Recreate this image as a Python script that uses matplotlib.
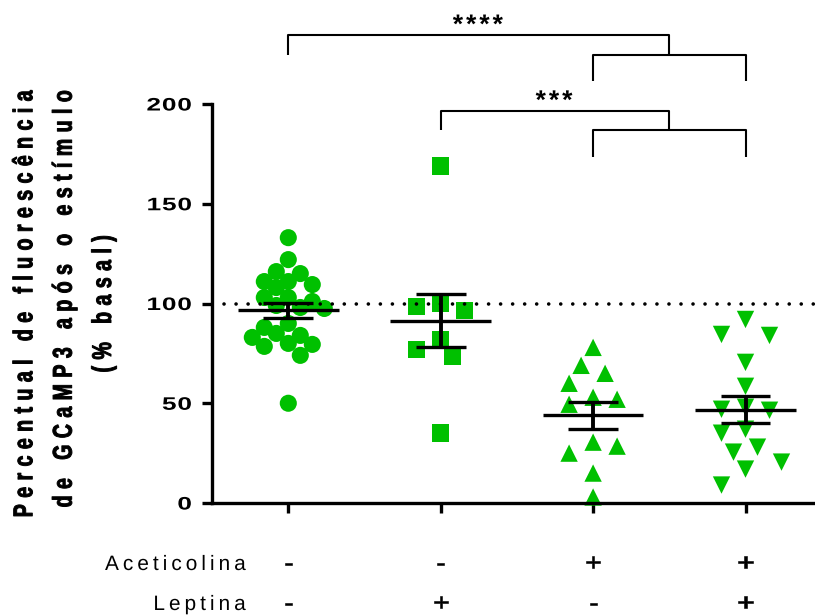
import numpy as np
import matplotlib
matplotlib.use('Agg')
import matplotlib.pyplot as plt
import matplotlib.patheffects as pe
import matplotlib.transforms as mtransforms
from matplotlib.path import Path
from matplotlib.textpath import TextToPath

# ---------------- data ----------------
grupo_controle = [133, 122, 115, 116, 111, 109.5, 111, 108, 103, 103, 101, 99, 98,
                  97.5, 88, 90, 84, 85, 83, 80, 78.5, 79.5, 74, 50]
grupo_leptina = [169, 100, 96.5, 98.5, 82, 77, 73.5, 35]
grupo_ach = [78, 69, 65, 60, 53, 52, 49.5, 30.5, 28.5, 25, 15, 3]
grupo_ach_leptina = [92, 84, 84.5, 70.5, 58.5, 48, 47, 46.5, 37, 35, 28, 25.5,
                     20.5, 17, 9]
groups = [grupo_controle, grupo_leptina, grupo_ach, grupo_ach_leptina]
markers = ['o', 's', '^', 'v']

aceticolina_signs = ['-', '-', '+', '+']
leptina_signs = ['-', '+', '-', '+']
row_labels = ['Aceticolina', 'Leptina']

yticks = [0, 50, 100, 150, 200]
ytick_labels = ['0', '50', '100', '150', '200']
ylabel_lines = ['Percentual de fluorescência', 'de GCaMP3 após o estímulo', '(% basal)']
sig_labels = ['****', '***']
reference_line = 100

# ---------------- style ----------------
FONT = 'Liberation Sans'
GREEN = '#00C000'
W, H, DPI = 815, 616, 100

_t2p = TextToPath()


class Tracked(pe.AbstractPathEffect):
    """Draw a single-line text with letter spacing, stretch and extra weight."""

    def __init__(self, text, prop, track_px=0.0, ha='left', sx=1.0, sy=1.0,
                 stroke=0.0):
        super().__init__()
        p = prop.copy()
        p.set_size(_t2p.FONT_SCALE)
        font = _t2p._get_font(p)
        info, gmap, _ = _t2p.get_glyphs_with_font(font, text)
        self.items = []
        for gid, x, y, s in info:
            v, c = gmap[gid]
            self.items.append((np.asarray(v, float) * s, np.asarray(c), x))
        self.n = len(self.items)
        self.width = _t2p.get_text_width_height_descent(text, p, ismath=False)[0]
        self.track_px = track_px
        self.f = {'left': 0.0, 'center': 0.5, 'right': 1.0}[ha]
        self.sx, self.sy = sx, sy
        self.stroke = stroke

    def draw_path(self, renderer, gc, tpath, affine, rgbFace=None):
        m = affine.get_matrix()
        scale = np.hypot(m[0, 0], m[1, 0])
        tr = self.track_px / scale if scale else 0.0
        extra = tr * (self.n - 1)
        anc = self.f * self.width
        verts, codes = [], []
        for i, (v, c, x) in enumerate(self.items):
            if len(v) == 0:
                continue
            vv = v.copy()
            vv[:, 0] += x + i * tr - self.f * extra
            verts.append(vv)
            codes.append(c)
        if not verts:
            return
        V = np.concatenate(verts)
        C = np.concatenate(codes)
        V[:, 0] = anc + (V[:, 0] - anc) * self.sx
        V[:, 1] = V[:, 1] * self.sy
        path = Path(V, C)
        if self.stroke > 0 and rgbFace is not None:
            gc0 = renderer.new_gc()
            gc0.copy_properties(gc)
            gc0.set_linewidth(self.stroke)
            gc0.set_foreground(rgbFace)
            gc0.set_joinstyle('round')
            renderer.draw_path(gc0, path, affine, rgbFace)
            gc0.restore()
        else:
            renderer.draw_path(gc, path, affine, rgbFace)


def tracked_text(t, track_px=0.0, sx=1.0, sy=1.0, ha=None, stroke=0.0):
    ha = ha or t.get_horizontalalignment()
    t.set_path_effects([Tracked(t.get_text(), t.get_fontproperties(),
                                track_px=track_px, ha=ha, sx=sx, sy=sy,
                                stroke=stroke)])
    return t


def swarm(values, ypx=1.995, step=12.0, dist=13.0):
    vals = np.asarray(values, float)
    order = np.argsort(-vals, kind='stable')
    placed = []
    offs = np.zeros(len(vals))
    total = 0.0
    for idx in order:
        y = vals[idx] * ypx

        def free(x):
            return all((x - px) ** 2 + (y - py) ** 2 >= dist ** 2 for px, py in placed)
        chosen = 0.0
        if not free(0.0):
            for k in range(1, 40):
                a, b = -k * step, k * step
                fa, fb = free(a), free(b)
                if fa and fb:
                    chosen = a if total >= 0 else b
                    break
                if fa:
                    chosen = a
                    break
                if fb:
                    chosen = b
                    break
        placed.append((chosen, y))
        offs[idx] = chosen
        total += chosen
    return offs


# ---------------- figure ----------------
fig = plt.figure(figsize=(W / DPI, H / DPI), dpi=DPI)
X0, DX = 288.3, 152.4          # pixel of group 0, pixels per group
y0px, y200px = 503.0, 104.0
ax_left, ax_right = 212.0, 815.0
ax = fig.add_axes([ax_left / W, 1 - y0px / H, (ax_right - ax_left) / W,
                   (y0px - y200px) / H])
ax.set_xlim((ax_left - X0) / DX, (ax_right - X0) / DX)
ax.set_ylim(0, 200)
ypx = (y0px - y200px) / 200.0

for sp in ['top', 'right']:
    ax.spines[sp].set_visible(False)
for sp in ['left', 'bottom']:
    ax.spines[sp].set_linewidth(2.4)

# points
swarm_dist = {'o': 13.0, 's': 20.0, '^': 20.0, 'v': 20.0}
for i, (vals, mk) in enumerate(zip(groups, markers)):
    offs = swarm(vals, ypx=ypx, dist=swarm_dist[mk]) / DX
    ax.scatter(i + offs, vals, marker=mk, s=12.5 ** 2 if mk != 'o' else 12.3 ** 2,
               color=GREEN, edgecolors='none', zorder=2, clip_on=False)

# reference line
ax.axhline(reference_line, color='black', lw=2.6, linestyle=(0, (0.01, 3.32)),
           dash_capstyle='round', zorder=3)

# mean +/- SEM
for i, vals in enumerate(groups):
    v = np.asarray(vals, float)
    mean = v.mean()
    sem = v.std(ddof=1) / np.sqrt(len(v))
    ax.hlines(mean, i - 0.33, i + 0.33, color='black', lw=2.4, zorder=4)
    ax.hlines([mean - sem, mean + sem], i - 0.164, i + 0.164, color='black',
              lw=2.4, zorder=4)
    ax.vlines(i, mean - sem, mean + sem, color='black', lw=2.8, zorder=4)

# axes ticks
ax.set_yticks(yticks, ytick_labels)
ax.tick_params(axis='y', length=7.4, width=2.4, pad=7, direction='out')
ax.set_xticks(range(len(groups)), [''] * len(groups))
ax.tick_params(axis='x', length=7.4, width=2.4, direction='out')
for lab in ax.get_yticklabels():
    lab.set_fontfamily(FONT)
    lab.set_fontweight('bold')
    lab.set_fontsize(13)
    tracked_text(lab, track_px=0.6, sx=1.45, ha='right')

# y label (three lines)
ylab_pos = [(32.3, 304.0), (71.7, 299.0), (111.0, 304.0)]
for line, (xp, yp) in zip(ylabel_lines, ylab_pos):
    t = fig.text(xp / W, 1 - yp / H, line, rotation=90, rotation_mode='anchor',
                 ha='center', va='baseline', fontsize=16, fontweight='bold',
                 family=FONT)
    tracked_text(t, track_px=7.3, sx=0.88, sy=1.22, ha='center', stroke=0.7)

# condition table
row_base = [570.0, 610.0]
for lab, yb in zip(row_labels, row_base):
    t = fig.text(246.0 / W, 1 - yb / H, lab, ha='right', va='baseline',
                 fontsize=15, family=FONT)
    tracked_text(t, track_px=4.0, ha='right')
blend = mtransforms.blended_transform_factory(ax.transData, fig.transFigure)
for signs, yb in zip([aceticolina_signs, leptina_signs], row_base):
    for i, s in enumerate(signs):
        t = ax.text(i, 1 - yb / H, s, transform=blend, ha='center', va='baseline',
                    fontsize=17, family=FONT, clip_on=False)
        tracked_text(t, sx=1.25, ha='center', stroke=0.4)


# significance brackets
def bracket(left, pair, y_top, label, drop=9.7, drop2=13.2):
    mid = (pair[0] + pair[1]) / 2
    y_mid = y_top - drop
    y_bot = y_mid - drop2
    kw = dict(color='black', lw=1.5, clip_on=False, solid_capstyle='butt')
    ax.plot([left, left, mid, mid], [y_mid, y_top, y_top, y_mid], **kw)
    ax.plot([pair[0], pair[0], pair[1], pair[1]], [y_bot, y_mid, y_mid, y_bot], **kw)
    tr = mtransforms.offset_copy(ax.transData, fig=fig, x=-1, y=2.5, units='dots')
    t = ax.text((left + mid) / 2, y_top, label, transform=tr, ha='center',
                va='baseline', fontsize=19, fontweight='bold', family=FONT,
                clip_on=False)
    tracked_text(t, track_px=3.0, ha='center')


bracket(0, (2, 3), 234.5, sig_labels[0])
bracket(1, (2, 3), 196.5, sig_labels[1])

fig.savefig('out.png', dpi=DPI)
